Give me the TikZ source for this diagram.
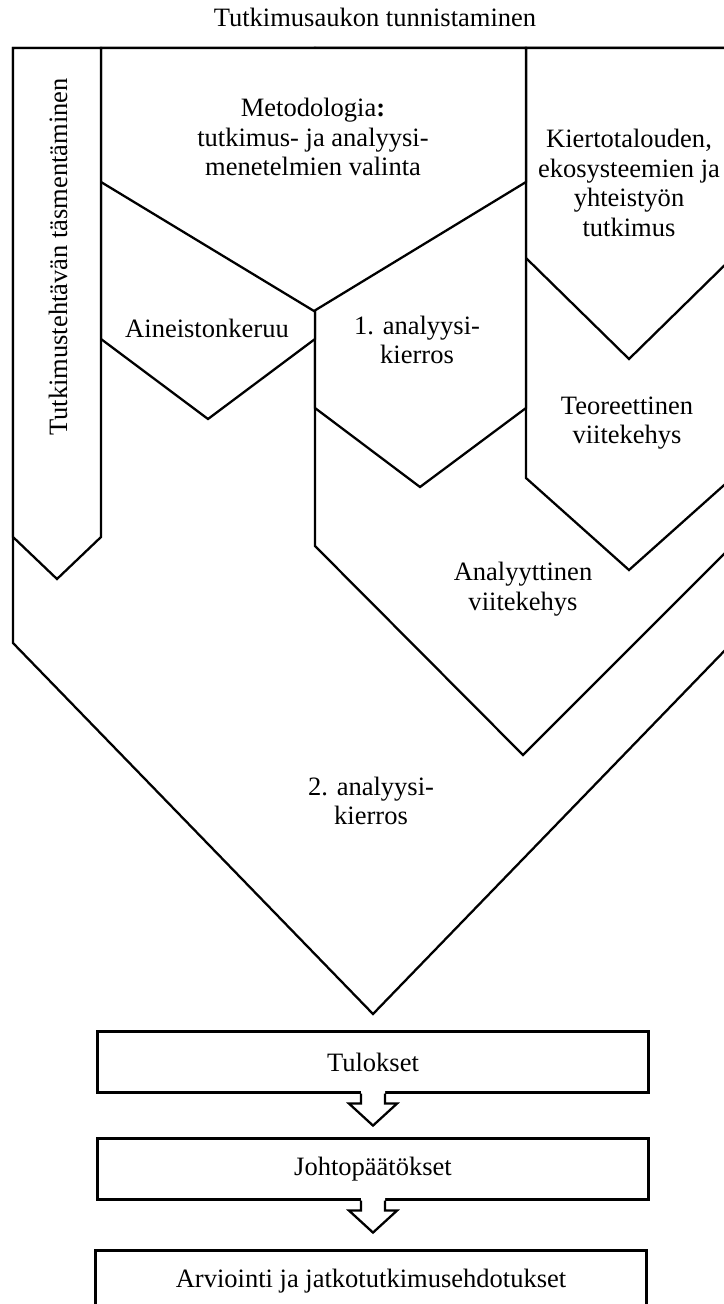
\documentclass[tikz,border=0pt]{standalone}
\usepackage{fontspec}
\setmainfont{Liberation Serif}
\usetikzlibrary{calc}

\begin{document}
\begin{tikzpicture}[x=0.46pt, y=-0.46pt,
    band/.style={draw, fill=white, line width=1.05pt},
    teksti/.style={align=center, font=\fontsize{12.2}{13.6}\selectfont},
    tulosbox/.style={draw, line width=1.05pt, minimum width=253.5pt,
      minimum height=28pt, font=\fontsize{12.2}{13.6}\selectfont}]

  \useasboundingbox (0,0) rectangle (724,1304);
  \clip (0,0) rectangle (724,1304);

  \node[teksti, anchor=base] (aukko) at (375,26) {Tutkimusaukon tunnistaminen};

  \draw[band] (13,48) -- (732,48) -- (732,643) -- (373,1014) -- (13,643) -- cycle;
  \draw[band] (315,48) -- (732,48) -- (732,546) -- (523,755) -- (315,546) -- cycle;
  \draw[band] (526,48) -- (732,48) -- (732,478) -- (629,570) -- (526,478) -- cycle;
  \draw[band] (526,48) -- (732,48) -- (732,258) -- (629,359) -- (526,258) -- cycle;
  \draw[band] (315,48) -- (526,48) -- (526,408) -- (420,487) -- (315,408) -- cycle;
  \draw[band] (101,48) -- (315,48) -- (315,339) -- (208,419) -- (101,339) -- cycle;
  \draw[band] (101,48) -- (526,48) -- (526,182) -- (314,311) -- (101,182) -- cycle;
  \draw[band] (13,48) -- (101,48) -- (101,537) -- (57,579) -- (13,537) -- cycle;

  \node[teksti, rotate=90] (tehtava) at (58,257) {Tutkimustehtävän täsmentäminen};
  \node[teksti] (metodologia) at (313,137) {Metodologia\textbf{:}\\tutkimus- ja analyysi-\\menetelmien valinta};
  \node[teksti] (kierto) at (629,183) {Kiertotalouden,\\ekosysteemien ja\\yhteistyön\\tutkimus};
  \node[teksti] (aineisto) at (207,328) {Aineistonkeruu};
  \node[teksti] (kierros1) at (417,340) {1. analyysi-\\kierros};
  \node[teksti] (teoria) at (627,423) {Teoreettinen\\viitekehys};
  \node[teksti] (analyyt) at (523,589) {Analyyttinen\\viitekehys};
  \node[teksti] (kierros2) at (371,801) {2. analyysi-\\kierros};

  \node[tulosbox] (tulokset) at (373,1062) {Tulokset};
  \node[tulosbox] (johto) at (373,1169) {Johtopäätökset};
  \node[tulosbox] (arviointi) at (371,1281) {Arviointi ja jatkotutkimusehdotukset};

  \foreach \a in {tulokset, johto} {
    \fill[white] ($(\a.south)+(-12,-3)$) -- ++(0,13) -- ++(-12,0) -- ++(24,22)
      -- ++(24,-22) -- ++(-12,0) -- ++(0,-13) -- cycle;
    \draw[line width=1.05pt] ($(\a.south)+(-12,0)$) -- ++(0,10) -- ++(-12,0)
      -- ++(24,22) -- ++(24,-22) -- ++(-12,0) -- ++(0,-10);
  }
\end{tikzpicture}
\end{document}
